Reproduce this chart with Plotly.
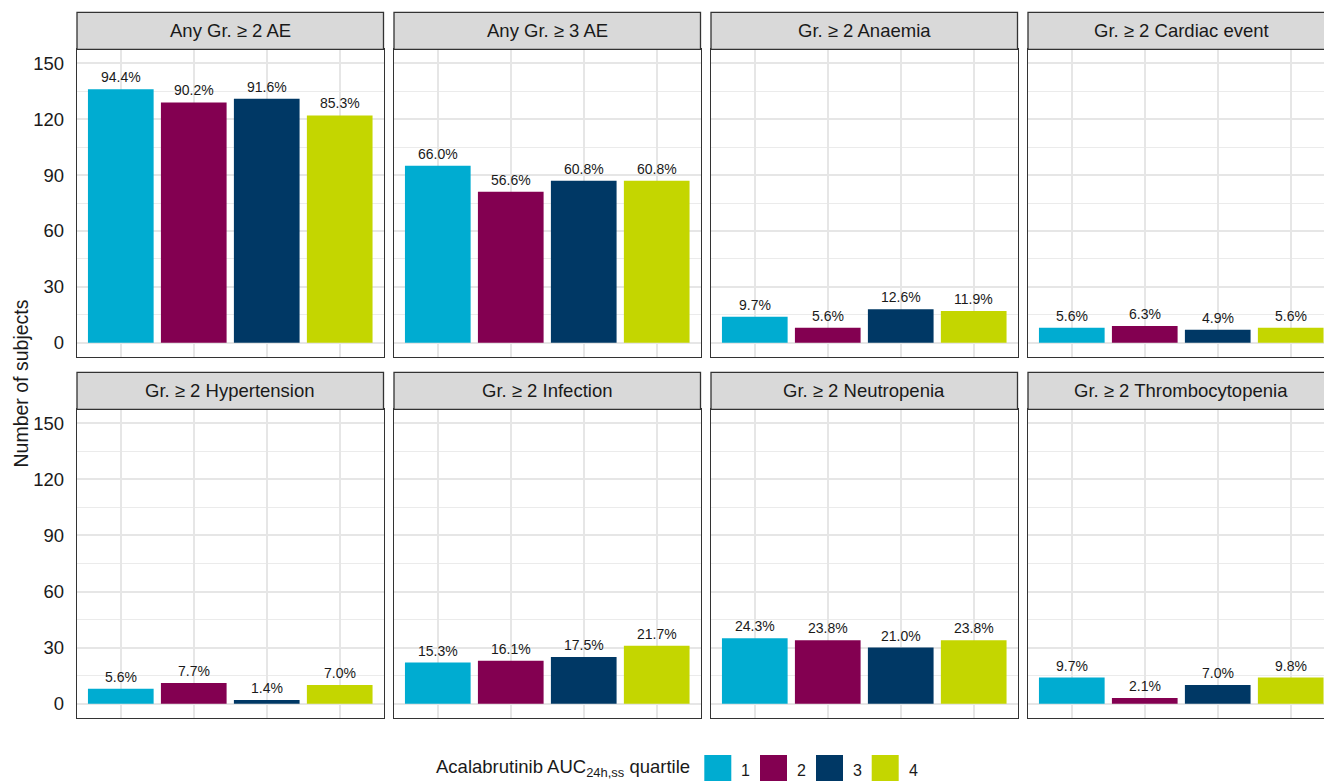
import plotly.graph_objects as go

# ---- data -------------------------------------------------------------
facets = [
    "Any Gr. \u2265 2 AE", "Any Gr. \u2265 3 AE", "Gr. \u2265 2 Anaemia", "Gr. \u2265 2 Cardiac event",
    "Gr. \u2265 2 Hypertension", "Gr. \u2265 2 Infection", "Gr. \u2265 2 Neutropenia",
    "Gr. \u2265 2 Thrombocytopenia",
]
quartiles = ["1", "2", "3", "4"]
n_per_quartile = [144, 143, 143, 143]

any_gr2_ae = [136, 129, 131, 122]
any_gr3_ae = [95, 81, 87, 87]
anaemia = [14, 8, 18, 17]
cardiac_event = [8, 9, 7, 8]
hypertension = [8, 11, 2, 10]
infection = [22, 23, 25, 31]
neutropenia = [35, 34, 30, 34]
thrombocytopenia = [14, 3, 10, 14]

facet_counts = [any_gr2_ae, any_gr3_ae, anaemia, cardiac_event,
                hypertension, infection, neutropenia, thrombocytopenia]

colors = ["#00ACD1", "#830051", "#003865", "#C4D600"]
y_ticks = [0, 30, 60, 90, 120, 150]

# ---- geometry (pixels) ------------------------------------------------
W, H = 1324, 781
FONT = "Liberation Sans, Arial, Helvetica, sans-serif"
TXT = "#1a1a1a"
BORDER = "#333333"
GRID = "#E6E6E6"

col_left = [77, 394, 711, 1028]
panel_w = 306.5
row_panel = [(49.3, 356.7), (409.3, 717.7)]   # top, bottom
strip_h = 37.0
unit_px = panel_w / 4.2                        # px per category step


def fx(px):
    return px / W


def fy(px):
    return 1 - px / H


fig = go.Figure()
shapes = []
annotations = []

for k, (name, counts) in enumerate(zip(facets, facet_counts)):
    r, c = divmod(k, 4)
    idx = k + 1
    xa = "x" if idx == 1 else f"x{idx}"
    ya = "y" if idx == 1 else f"y{idx}"
    left = col_left[c]
    right = min(left + panel_w, W)
    top, bottom = row_panel[r]
    x_hi = 0.4 + (right - left) / unit_px

    pct = [f"{100 * v / n:.1f}%" for v, n in zip(counts, n_per_quartile)]
    for q in range(4):
        fig.add_trace(go.Bar(
            x=[q + 1], y=[counts[q]], width=0.9,
            marker=dict(color=colors[q], line=dict(width=0)),
            xaxis=xa, yaxis=ya, showlegend=False, hoverinfo="skip",
        ))
        # percentage label sitting above the bar
        annotations.append(dict(
            text=pct[q], xref=xa, yref=ya, x=q + 1, y=counts[q],
            xanchor="center", yanchor="bottom", yshift=2, showarrow=False,
            font=dict(family=FONT, size=14, color=TXT),
        ))

    xkey = "xaxis" if idx == 1 else f"xaxis{idx}"
    ykey = "yaxis" if idx == 1 else f"yaxis{idx}"
    fig.layout[xkey] = dict(
        domain=[fx(left), fx(right)], range=[0.4, x_hi], anchor=ya,
        tickvals=[1, 2, 3, 4], showticklabels=False, ticks="",
        showgrid=True, gridcolor=GRID, gridwidth=1.6, zeroline=False,
        showline=True, mirror=True, linecolor=BORDER, linewidth=1.3,
        fixedrange=True,
    )
    fig.layout[ykey] = dict(
        domain=[fy(bottom), fy(top)], range=[-7.5, 157.5], anchor=xa,
        tickvals=y_ticks, showticklabels=(c == 0), ticks="",
        ticklabelstandoff=8,
        tickfont=dict(family=FONT, size=18.5, color=TXT),
        showgrid=True, gridcolor=GRID, gridwidth=1.6, zeroline=False,
        minor=dict(dtick=15, tick0=0, showgrid=True, gridcolor="#EBEBEB", gridwidth=1.1),
        showline=True, mirror=(c != 3), linecolor=BORDER, linewidth=1.3,
        fixedrange=True,
    )

    # facet strip
    strip_right = left + panel_w if c < 3 else W + 20
    shapes.append(dict(
        type="rect", xref="paper", yref="paper",
        x0=fx(left), x1=fx(strip_right), y0=fy(top), y1=fy(top - strip_h),
        fillcolor="#D9D9D9", line=dict(color=BORDER, width=1.3), layer="above",
    ))
    annotations.append(dict(
        text=name, xref="paper", yref="paper",
        x=fx(left + panel_w / 2), y=fy(top - strip_h / 2),
        xanchor="center", yanchor="middle", showarrow=False,
        font=dict(family=FONT, size=18.5, color=TXT),
    ))

# y-axis title
annotations.append(dict(
    text="Number of subjects", xref="paper", yref="paper",
    x=fx(20), y=fy(383.5), textangle=-90, xanchor="center", yanchor="middle",
    showarrow=False, font=dict(family=FONT, size=19.5, color=TXT),
))

# legend (drawn as keys + labels beneath the panels)
key_left = [704.3, 760.0, 816.0, 871.7]
key_size = 27
key_top = 755
annotations.append(dict(
    text="Acalabrutinib AUC<sub>24h,ss</sub> quartile", xref="paper", yref="paper",
    x=fx(692), y=fy(768), xanchor="right", yanchor="middle", showarrow=False,
    font=dict(family=FONT, size=18.5, color=TXT),
))
for q, lab in enumerate(quartiles):
    shapes.append(dict(
        type="rect", xref="paper", yref="paper",
        x0=fx(key_left[q]), x1=fx(key_left[q] + key_size),
        y0=fy(key_top + key_size), y1=fy(key_top),
        fillcolor=colors[q], line=dict(width=0),
    ))
    annotations.append(dict(
        text=lab, xref="paper", yref="paper",
        x=fx(key_left[q] + key_size + 8), y=fy(770), xanchor="left", yanchor="middle",
        showarrow=False, font=dict(family=FONT, size=16, color=TXT),
    ))

fig.update_layout(
    width=W, height=H, margin=dict(l=0, r=0, t=0, b=0),
    paper_bgcolor="white", plot_bgcolor="white",
    barmode="overlay", showlegend=False,
    shapes=shapes, annotations=annotations,
    font=dict(family=FONT, color=TXT),
)

fig.write_html("out.html", config={"displayModeBar": False})
